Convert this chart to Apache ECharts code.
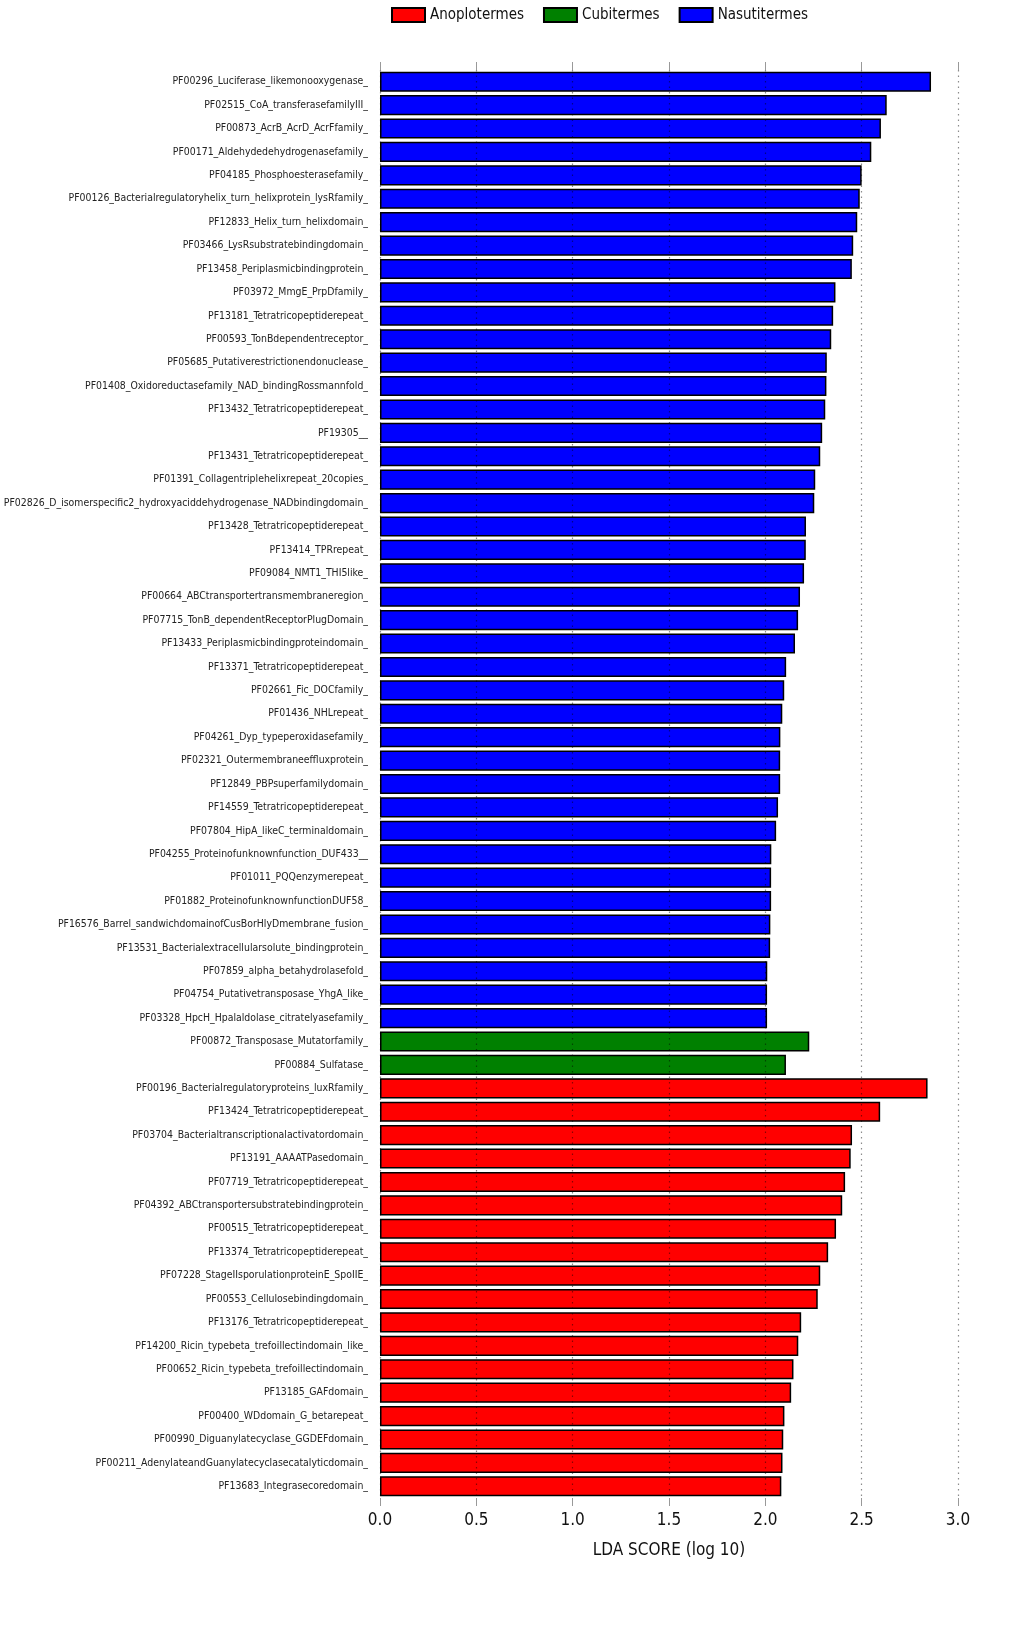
<!DOCTYPE html>
<html>
<head>
<meta charset="utf-8">
<script src="https://cdn.jsdelivr.net/npm/echarts@6/dist/echarts.min.js"></script>
<style>
html,body{margin:0;padding:0;background:#fff;}
#chart{width:1018px;height:1637px;}
</style>
</head>
<body>
<div id="chart"></div>
<script>
// Categories, top to bottom
const categories = [
  "PF00296_Luciferase_likemonooxygenase_",
  "PF02515_CoA_transferasefamilyIII_",
  "PF00873_AcrB_AcrD_AcrFfamily_",
  "PF00171_Aldehydedehydrogenasefamily_",
  "PF04185_Phosphoesterasefamily_",
  "PF00126_Bacterialregulatoryhelix_turn_helixprotein_lysRfamily_",
  "PF12833_Helix_turn_helixdomain_",
  "PF03466_LysRsubstratebindingdomain_",
  "PF13458_Periplasmicbindingprotein_",
  "PF03972_MmgE_PrpDfamily_",
  "PF13181_Tetratricopeptiderepeat_",
  "PF00593_TonBdependentreceptor_",
  "PF05685_Putativerestrictionendonuclease_",
  "PF01408_Oxidoreductasefamily_NAD_bindingRossmannfold_",
  "PF13432_Tetratricopeptiderepeat_",
  "PF19305__",
  "PF13431_Tetratricopeptiderepeat_",
  "PF01391_Collagentriplehelixrepeat_20copies_",
  "PF02826_D_isomerspecific2_hydroxyaciddehydrogenase_NADbindingdomain_",
  "PF13428_Tetratricopeptiderepeat_",
  "PF13414_TPRrepeat_",
  "PF09084_NMT1_THI5like_",
  "PF00664_ABCtransportertransmembraneregion_",
  "PF07715_TonB_dependentReceptorPlugDomain_",
  "PF13433_Periplasmicbindingproteindomain_",
  "PF13371_Tetratricopeptiderepeat_",
  "PF02661_Fic_DOCfamily_",
  "PF01436_NHLrepeat_",
  "PF04261_Dyp_typeperoxidasefamily_",
  "PF02321_Outermembraneeffluxprotein_",
  "PF12849_PBPsuperfamilydomain_",
  "PF14559_Tetratricopeptiderepeat_",
  "PF07804_HipA_likeC_terminaldomain_",
  "PF04255_Proteinofunknownfunction_DUF433__",
  "PF01011_PQQenzymerepeat_",
  "PF01882_ProteinofunknownfunctionDUF58_",
  "PF16576_Barrel_sandwichdomainofCusBorHlyDmembrane_fusion_",
  "PF13531_Bacterialextracellularsolute_bindingprotein_",
  "PF07859_alpha_betahydrolasefold_",
  "PF04754_Putativetransposase_YhgA_like_",
  "PF03328_HpcH_Hpalaldolase_citratelyasefamily_",
  "PF00872_Transposase_Mutatorfamily_",
  "PF00884_Sulfatase_",
  "PF00196_Bacterialregulatoryproteins_luxRfamily_",
  "PF13424_Tetratricopeptiderepeat_",
  "PF03704_Bacterialtranscriptionalactivatordomain_",
  "PF13191_AAAATPasedomain_",
  "PF07719_Tetratricopeptiderepeat_",
  "PF04392_ABCtransportersubstratebindingprotein_",
  "PF00515_Tetratricopeptiderepeat_",
  "PF13374_Tetratricopeptiderepeat_",
  "PF07228_StageIIsporulationproteinE_SpoIIE_",
  "PF00553_Cellulosebindingdomain_",
  "PF13176_Tetratricopeptiderepeat_",
  "PF14200_Ricin_typebeta_trefoillectindomain_like_",
  "PF00652_Ricin_typebeta_trefoillectindomain_",
  "PF13185_GAFdomain_",
  "PF00400_WDdomain_G_betarepeat_",
  "PF00990_Diguanylatecyclase_GGDEFdomain_",
  "PF00211_AdenylateandGuanylatecyclasecatalyticdomain_",
  "PF13683_Integrasecoredomain_"
];

// LDA scores (log10), same order
const ldaScores = [
  2.86, 2.63, 2.60, 2.55, 2.50, 2.49, 2.477, 2.456, 2.449, 2.364,
  2.352, 2.342, 2.319, 2.317, 2.311, 2.295, 2.285, 2.259, 2.254, 2.211,
  2.210, 2.201, 2.180, 2.170, 2.154, 2.108, 2.098, 2.088, 2.078, 2.077,
  2.077, 2.066, 2.056, 2.031, 2.030, 2.030, 2.026, 2.025, 2.010, 2.009,
  2.009,
  2.228, 2.107,
  2.842, 2.596, 2.450, 2.443, 2.414, 2.399, 2.367, 2.326, 2.285, 2.272,
  2.186, 2.171, 2.146, 2.134, 2.099, 2.093, 2.089, 2.083
];

// Class of each category, same order
const groups = [].concat(
  Array(41).fill("Nasutitermes"),
  Array(2).fill("Cubitermes"),
  Array(18).fill("Anoplotermes")
);

const classNames = ["Anoplotermes", "Cubitermes", "Nasutitermes"];
const classColors = { Anoplotermes: "#ff0000", Cubitermes: "#008000", Nasutitermes: "#0000ff" };

const FONT = "DejaVu Sans Condensed";

const series = classNames.map(function (name) {
  return {
    name: name,
    type: "bar",
    barGap: "-100%",
    barCategoryGap: "14%",
    itemStyle: { color: classColors[name], borderColor: "#000", borderWidth: 1.5 },
    data: ldaScores.map(function (v, i) { return groups[i] === name ? v : null; }),
    z: 2
  };
});

const chart = echarts.init(document.getElementById("chart"), null, { renderer: "canvas" });
chart.setOption({
  backgroundColor: "#ffffff",
  animation: false,
  legend: {
    data: classNames,
    icon: "rect",
    left: 386,
    top: 2,
    itemWidth: 33,
    itemHeight: 14,
    itemGap: 19,
    textStyle: { fontFamily: FONT, fontSize: 15, color: "#111" }
  },
  grid: { left: 380, right: 60, top: 70, bottom: 139, containLabel: false },
  xAxis: [
    {
      type: "value",
      position: "bottom",
      min: 0,
      max: 3.0,
      interval: 0.5,
      z: 10,
      name: "LDA SCORE (log 10)",
      nameLocation: "middle",
      nameGap: 44,
      nameTextStyle: { fontFamily: FONT, fontSize: 17, color: "#111" },
      axisLine: { show: false },
      axisTick: { show: true, length: 8, inside: false, lineStyle: { color: "#999" } },
      axisLabel: {
        margin: 14,
        fontFamily: FONT,
        fontSize: 17,
        color: "#111",
        formatter: function (v) { return v.toFixed(1); }
      },
      splitLine: { show: true, lineStyle: { color: "rgba(0,0,0,0.45)", type: [1.5, 4], width: 1.2 } }
    },
    {
      type: "value",
      position: "top",
      min: 0,
      max: 3.0,
      interval: 0.5,
      z: 10,
      axisLine: { show: false },
      axisTick: { show: true, length: 8, lineStyle: { color: "#999" } },
      axisLabel: { show: false },
      splitLine: { show: false }
    }
  ],
  yAxis: {
    type: "category",
    data: categories,
    inverse: true,
    axisLine: { show: false },
    axisTick: { show: false },
    axisLabel: {
      margin: 12,
      fontFamily: FONT,
      fontSize: 10.4,
      color: "#222",
      interval: 0
    },
    splitLine: { show: false }
  },
  series: series
});
</script>
</body>
</html>
